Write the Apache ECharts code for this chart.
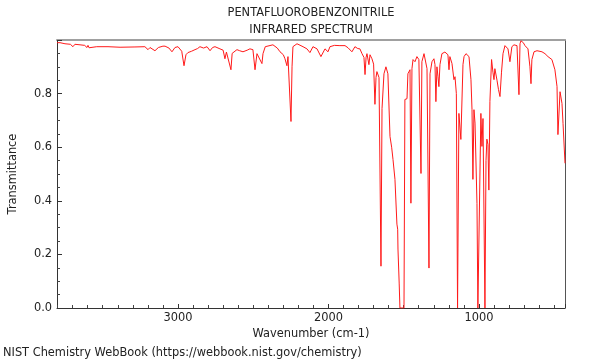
<!DOCTYPE html>
<html><head><meta charset="utf-8">
<script src="https://cdn.jsdelivr.net/npm/echarts@6/dist/echarts.min.js"></script>
<style>html,body{margin:0;padding:0;background:#fff}#c{width:600px;height:360px}</style>
</head><body><div id="c"></div>
<script>
const titleLines = ['PENTAFLUOROBENZONITRILE', 'INFRARED SPECTRUM'];
const xAxisName = 'Wavenumber (cm-1)';
const yAxisName = 'Transmittance';
const footerText = 'NIST Chemistry WebBook (https://webbook.nist.gov/chemistry)';
const xMin = 428, xMax = 3804;
const yMin = 0, yMax = 1.0;

const wavenumber = [
  3804, 3784, 3751, 3715, 3698, 3685, 3651, 3620, 3605, 3598, 3591, 3578, 3540, 3465, 3385, 3286,
  3220, 3199, 3186, 3153, 3130, 3100, 3086, 3060, 3040, 3020, 3000, 2975, 2960, 2947, 2934, 2910,
  2887, 2870, 2854, 2830, 2807, 2787, 2770, 2754, 2721, 2700, 2688, 2678, 2668, 2648, 2640, 2635,
  2608, 2590, 2568, 2540, 2522, 2502, 2488, 2475, 2462, 2442, 2435, 2420, 2409, 2369, 2340, 2322,
  2300, 2289, 2276, 2269, 2262, 2249, 2242, 2236, 2209, 2169, 2143, 2123, 2103, 2076, 2050, 2023,
  2003, 1990, 1960, 1924, 1890, 1870, 1844, 1824, 1805, 1791, 1777, 1764, 1757, 1750, 1744, 1737,
  1731, 1724, 1717, 1711, 1700, 1691, 1684, 1678, 1671, 1664, 1651, 1644, 1638, 1631, 1618, 1605,
  1591, 1580, 1571, 1558, 1545, 1540, 1538, 1530, 1525, 1498, 1492, 1478, 1472, 1458, 1452, 1445,
  1438, 1425, 1412, 1405, 1399, 1385, 1379, 1365, 1352, 1345, 1332, 1325, 1312, 1299, 1292, 1286,
  1279, 1272, 1266, 1259, 1246, 1226, 1206, 1199, 1193, 1179, 1166, 1159, 1150, 1142, 1133, 1126,
  1120, 1106, 1099, 1086, 1073, 1066, 1053, 1046, 1040, 1033, 1026, 1013, 1007, 995, 987, 980,
  973, 967, 960, 953, 947, 940, 934, 927, 916, 907, 900, 894, 880, 870, 860, 850,
  840, 827, 807, 794, 781, 767, 747, 734, 727, 721, 714, 705, 694, 674, 661, 654,
  648, 634, 614, 601, 581, 561, 541, 535, 515, 495, 481, 475, 461, 448, 441, 428
];
const transmittance = [
  0.990, 0.990, 0.986, 0.984, 0.975, 0.984, 0.982, 0.980, 0.972, 0.980, 0.971, 0.978, 0.975, 0.975, 0.973, 0.974,
  0.975, 0.964, 0.972, 0.960, 0.972, 0.977, 0.977, 0.970, 0.956, 0.972, 0.975, 0.958, 0.904, 0.945, 0.953, 0.958,
  0.964, 0.968, 0.975, 0.970, 0.975, 0.960, 0.972, 0.975, 0.967, 0.962, 0.930, 0.955, 0.949, 0.889, 0.950, 0.956,
  0.964, 0.960, 0.956, 0.962, 0.967, 0.964, 0.889, 0.949, 0.953, 0.912, 0.949, 0.975, 0.982, 0.982, 0.970, 0.956,
  0.945, 0.930, 0.904, 0.938, 0.940, 0.696, 0.900, 0.975, 0.986, 0.975, 0.967, 0.953, 0.975, 0.967, 0.938, 0.967,
  0.956, 0.975, 0.980, 0.979, 0.979, 0.971, 0.956, 0.975, 0.968, 0.967, 0.949, 0.935, 0.871, 0.935, 0.949, 0.953,
  0.908, 0.945, 0.949, 0.930, 0.910, 0.760, 0.860, 0.882, 0.889, 0.860, 0.156, 0.744, 0.745, 0.874, 0.900, 0.874,
  0.640, 0.600, 0.554, 0.480, 0.313, 0.294, 0.220, 0.093, 0.000, 0.000, 0.778, 0.781, 0.874, 0.889, 0.391, 0.893,
  0.927, 0.919, 0.938, 0.945, 0.927, 0.502, 0.919, 0.949, 0.945, 0.893, 0.149, 0.874, 0.919, 0.930, 0.908, 0.770,
  0.900, 0.863, 0.826, 0.908, 0.949, 0.955, 0.945, 0.889, 0.938, 0.912, 0.852, 0.863, 0.800, 0.000, 0.726, 0.733,
  0.629, 0.908, 0.938, 0.949, 0.945, 0.938, 0.852, 0.740, 0.480, 0.740, 0.690, 0.390, 0.000, 0.000, 0.726, 0.603,
  0.707, 0.703, 0.000, 0.550, 0.630, 0.610, 0.440, 0.770, 0.927, 0.880, 0.852, 0.893, 0.850, 0.815, 0.789, 0.880,
  0.949, 0.979, 0.967, 0.919, 0.975, 0.982, 0.979, 0.796, 0.986, 0.997, 0.997, 0.990, 0.979, 0.967, 0.900, 0.837,
  0.927, 0.956, 0.960, 0.956, 0.956, 0.949, 0.938, 0.945, 0.927, 0.889, 0.826, 0.647, 0.807, 0.763, 0.688, 0.540
];

const FONT = 'DejaVu Sans';
const FS = 11.4;
const TXT = '#222';
const chart = echarts.init(document.getElementById('c'), null, {renderer: 'canvas'});
const points = wavenumber.map((w, i) => [w, transmittance[i]]);
const fontStr = FS + 'px "' + FONT + '"';

chart.setOption({
  animation: false,
  backgroundColor: '#fff',
  grid: {left: 57, right: 35, top: 40, bottom: 52, containLabel: false},
  graphic: [
    {type: 'text', x: 311, y: 13, style: {text: titleLines[0], font: fontStr, fill: TXT, textAlign: 'center', textVerticalAlign: 'middle'}},
    {type: 'text', x: 311, y: 30, style: {text: titleLines[1], font: fontStr, fill: TXT, textAlign: 'center', textVerticalAlign: 'middle'}},
    {type: 'text', x: 3, y: 353, style: {text: footerText, font: fontStr, fill: TXT, textAlign: 'left', textVerticalAlign: 'middle'}}
  ],
  xAxis: [
    {
      type: 'value', inverse: true, min: xMin, max: xMax, splitNumber: 3, position: 'bottom',
      name: xAxisName, nameLocation: 'middle', nameGap: 18,
      nameTextStyle: {fontFamily: FONT, fontSize: FS, color: TXT},
      axisLine: {show: true, onZero: false, lineStyle: {color: '#333', width: 1}},
      axisTick: {show: true, inside: true, length: 4, lineStyle: {color: '#333'}},
      minorTick: {show: true, splitNumber: 10, length: 3, lineStyle: {color: '#444'}},
      axisLabel: {fontFamily: FONT, fontSize: FS, color: TXT, margin: 5, showMinLabel: false, showMaxLabel: false,
        formatter: v => (v % 1000 === 0 ? String(v) : '')},
      splitLine: {show: false}, minorSplitLine: {show: false}
    },
    {
      type: 'value', inverse: true, min: xMin, max: xMax, position: 'top',
      axisLine: {show: true, onZero: false, lineStyle: {color: '#a0a0a0', width: 2}},
      axisTick: {show: false}, axisLabel: {show: false}, splitLine: {show: false}
    }
  ],
  yAxis: [
    {
      type: 'value', min: yMin, max: yMax, interval: 0.2, position: 'left',
      name: yAxisName, nameLocation: 'middle', nameGap: 38, nameRotate: 90,
      nameTextStyle: {fontFamily: FONT, fontSize: FS, color: TXT},
      axisLine: {show: true, onZero: false, lineStyle: {color: '#333', width: 1}},
      axisTick: {show: true, inside: true, length: 5, lineStyle: {color: '#333'}},
      minorTick: {show: true, splitNumber: 4, length: 3, lineStyle: {color: '#444'}},
      axisLabel: {fontFamily: FONT, fontSize: FS, color: TXT, margin: 5, showMaxLabel: false,
        formatter: v => v.toFixed(1)},
      splitLine: {show: false}
    },
    {
      type: 'value', min: yMin, max: yMax, position: 'right',
      axisLine: {show: true, onZero: false, lineStyle: {color: '#555', width: 1}},
      axisTick: {show: false}, axisLabel: {show: false}, splitLine: {show: false}
    }
  ],
  series: [{
    type: 'line', xAxisIndex: 0, yAxisIndex: 0, data: points,
    showSymbol: false, symbol: 'none', smooth: false, clip: true,
    lineStyle: {color: '#ff1a1a', width: 1}
  }]
});
</script>
</body></html>
